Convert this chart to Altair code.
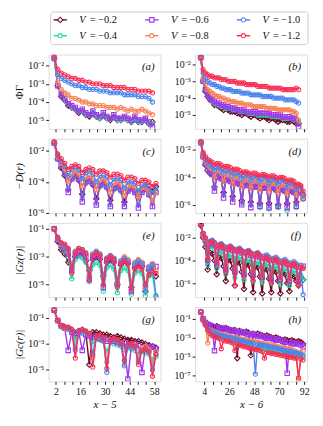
import altair as alt
import pandas as pd

FONT = "Liberation Serif"

# series: V values, colours, marker shapes (drawing order: first at bottom)
NAMES = ["-0.2", "-0.4", "-0.6", "-0.8", "-1.0", "-1.2"]
COLORS = ["#6e0b24", "#20d8a8", "#a335ee", "#fa7f52", "#4b84ee", "#f72f54"]
SHAPES = ["diamond", "circle", "square", "circle", "circle", "circle"]
SIZES = [30, 18, 20, 18, 18, 18]

# sampled positions
X_LEFT = list(range(1, 60, 2))    # x - 5 panels
X_RIGHT = list(range(1, 92, 2))   # x - 6 panels

# values stored as codes: value = 10 ** (-code / 10)
A = {
    "-0.2": [16,31,37,39,42,43,44,46,45,47,48,46,48,49,47,49,50,48,50,50,49,50,51,49,51,51,50,52,51],
    "-0.4": [16,31,36,39,41,43,44,45,45,47,47,46,48,49,47,49,49,48,50,50,49,50,51,49,51,51,50,52,52],
    "-0.6": [16,31,36,38,41,42,43,45,44,46,47,45,47,48,46,48,49,47,49,49,48,49,50,48,50,50,49,51,54],
    "-0.8": [16,29,33,35,36,38,38,39,40,40,41,41,42,42,42,43,43,43,44,43,44,45,44,45,45,44,45,46,47],
    "-1.0": [16,25,27,28,29,30,31,31,32,32,33,33,33,34,34,34,35,35,35,35,36,36,36,36,37,37,37,38,40],
    "-1.2": [15,22,24,25,26,27,27,28,28,29,29,30,30,30,31,31,31,32,32,32,32,33,33,33,34,34,34,34,35],
}
B = {
    "-0.2": [16,30,36,39,41,42,44,44,45,46,47,46,47,48,48,48,49,49,50,49,49,50,51,50,50,51,52,51,51,52,53,52,52,53,54,53,53,53,54,54,53,54,55,55],
    "-0.4": [16,30,35,38,40,42,43,44,44,45,45,46,46,46,47,47,47,48,48,48,48,49,49,49,49,50,50,50,50,50,50,51,51,51,51,51,52,52,52,52,52,53,53,54],
    "-0.6": [16,30,35,38,40,41,42,43,43,44,44,45,45,46,46,46,47,47,47,47,48,48,48,48,48,49,49,49,49,49,49,50,50,50,50,50,51,51,51,51,52,52,53,57],
    "-0.8": [16,28,32,35,36,37,38,39,39,40,40,41,41,42,42,42,43,43,43,44,44,44,44,45,45,45,45,45,45,46,46,46,46,46,47,47,47,47,47,47,48,48,49,53],
    "-1.0": [16,25,28,30,31,32,32,33,33,34,34,35,35,35,36,36,36,36,37,37,37,37,38,38,38,38,38,39,39,39,39,39,40,40,40,40,40,41,41,41,41,41,42,43],
    "-1.2": [16,23,25,26,27,27,28,28,28,29,29,29,30,30,30,30,31,31,31,31,32,32,32,32,32,33,33,33,33,33,34,34,34,34,34,34,35,35,35,35,35,35,34,35],
}
C = {
    "-0.2": [15,25,31,36,45,38,36,39,48,41,39,42,51,43,41,44,52,45,43,46,53,46,44,46,50,45,43,45,46,43],
    "-0.4": [15,25,30,35,45,38,36,38,50,41,39,41,54,43,41,44,55,45,43,46,56,46,44,47,55,47,45,49,53,46],
    "-0.6": [15,25,30,35,47,38,35,38,53,40,38,41,55,42,40,43,56,44,42,45,56,46,44,47,57,47,45,48,56,47],
    "-0.8": [15,24,28,32,40,35,33,35,43,37,36,38,45,39,38,40,47,41,40,42,49,43,42,44,50,44,44,46,52,47],
    "-1.0": [15,23,27,30,36,32,31,32,38,34,33,35,40,36,36,37,42,38,38,39,44,40,40,41,46,42,42,43,47,44],
    "-1.2": [14,22,25,28,32,30,29,30,34,32,31,32,35,33,33,34,37,35,35,36,39,37,37,38,41,39,39,40,43,41],
}
D = {
    "-0.2": [15,25,31,35,37,38,47,40,39,41,51,42,41,43,54,44,43,45,57,46,44,46,58,47,45,47,59,48,46,48,59,48,47,49,60,49,48,50,59,50,49,51,58,51,51,53],
    "-0.4": [15,25,30,33,36,37,48,39,38,40,53,41,40,42,56,43,42,44,59,45,43,45,60,46,44,46,62,47,45,47,63,47,46,48,62,48,47,49,64,49,48,50,62,50,50,56],
    "-0.6": [15,25,30,34,36,38,50,40,39,41,55,42,41,43,58,44,43,45,60,46,44,46,62,47,45,47,61,48,46,48,62,48,47,49,61,49,48,50,62,50,49,51,61,51,51,55],
    "-0.8": [15,24,28,31,33,34,40,35,35,37,43,38,38,39,45,40,40,41,47,42,41,42,48,43,42,43,49,44,43,44,50,45,44,45,51,46,45,46,52,47,46,47,53,48,49,54],
    "-1.0": [15,23,27,29,31,32,35,33,33,34,37,35,35,36,39,37,37,38,41,39,38,39,42,40,39,40,43,41,40,41,44,42,41,42,45,43,42,43,47,44,44,45,49,46,47,52],
    "-1.2": [14,22,25,27,28,29,31,30,30,31,33,32,32,33,35,34,34,35,37,36,36,37,38,37,37,38,39,38,38,39,40,39,39,40,41,40,40,41,43,42,42,43,46,45,46,50],
}
E = {
    "-0.2": [10,19,25,28,34,36,30,28,28,33,40,32,30,32,44,34,32,34,50,36,33,35,52,38,35,37,55,40,38,44],
    "-0.4": [10,18,23,26,30,46,32,30,31,34,48,36,34,36,55,38,36,39,56,40,38,40,57,42,40,42,58,44,43,59],
    "-0.6": [10,18,22,24,28,40,29,27,27,30,46,31,29,30,52,33,31,33,50,34,32,34,55,36,34,35,52,38,36,37],
    "-0.8": [10,17,21,22,26,36,27,25,25,28,42,29,27,28,45,31,29,31,48,33,30,32,50,34,32,34,53,37,35,40],
    "-1.0": [10,17,20,22,25,38,26,24,25,27,44,28,26,28,46,31,29,31,49,33,31,33,52,35,33,35,55,38,36,58],
    "-1.2": [10,16,20,21,24,42,27,24,25,28,47,29,27,29,50,32,30,32,52,35,33,35,54,39,37,39,50,43,41,42],
}
F = {
    "-0.2": [9,20,28,48,33,34,40,52,37,38,45,58,39,40,47,62,41,42,50,65,43,44,52,68,45,46,54,69,47,48,56,68,49,50,58,69,51,52,60,67,53,54,58,62,55,57],
    "-0.4": [8,18,24,44,28,27,30,47,33,32,35,52,36,35,37,55,38,37,39,57,40,39,41,58,42,41,43,59,44,43,45,60,46,45,47,61,48,47,49,62,50,49,51,60,53,57],
    "-0.6": [8,17,22,40,25,24,26,44,28,27,29,48,30,29,31,50,32,31,33,52,34,33,35,53,36,35,37,55,38,37,39,56,40,39,41,57,42,41,43,58,44,43,45,59,46,45],
    "-0.8": [8,17,21,35,24,23,25,38,27,26,28,43,29,28,30,46,31,30,32,48,33,32,34,50,35,34,36,52,37,36,38,53,39,38,40,54,41,40,42,55,43,42,44,56,45,47],
    "-1.0": [8,16,20,34,23,22,24,40,26,25,27,45,28,27,29,48,30,29,31,50,32,31,33,52,34,33,35,53,36,35,37,54,38,37,39,55,40,39,41,56,42,41,43,57,44,70],
    "-1.2": [8,16,20,39,24,23,25,42,27,26,28,50,29,28,30,62,31,30,32,54,33,32,34,58,35,34,36,55,38,37,39,60,40,39,41,57,42,41,43,58,44,43,45,62,46,47],
}
G = {
    "-0.2": [4,12,16,17,18,19,22,20,19,21,46,21,21,22,23,23,24,25,24,25,26,27,27,28,28,29,30,31,32,33],
    "-0.4": [4,12,17,18,19,20,27,21,22,23,24,30,26,27,28,36,29,30,31,32,34,33,34,35,38,36,37,38,42,40],
    "-0.6": [4,12,16,18,35,21,22,21,35,23,24,25,24,26,27,28,27,28,29,30,29,57,31,30,31,52,32,33,32,34],
    "-0.8": [4,12,16,18,18,20,33,21,20,21,23,40,25,24,25,44,27,26,27,29,46,31,30,31,42,33,32,34,45,36],
    "-1.0": [4,12,16,17,18,20,35,21,20,21,23,38,25,24,26,52,28,27,28,30,47,32,31,33,44,35,34,36,50,38],
    "-1.2": [4,12,16,17,17,19,41,20,19,20,22,48,24,23,25,49,27,26,27,29,43,31,30,32,46,35,34,36,55,38],
}
H = {
    "-0.2": [3,10,14,16,17,18,19,18,19,20,21,20,21,22,23,22,52,23,24,25,24,25,49,26,27,26,27,28,29,28,29,30,31,30,31,32,33,32,33,34,33,34,35,34,35,37],
    "-0.4": [3,11,17,22,25,27,28,29,30,31,31,32,33,33,34,35,35,36,37,37,38,38,39,39,40,41,41,42,42,43,43,44,44,45,45,46,46,47,47,48,48,49,49,50,50,51],
    "-0.6": [3,10,14,16,17,18,44,19,20,21,20,21,22,23,22,23,24,25,24,25,26,27,26,27,28,29,28,29,30,31,30,31,32,33,32,33,34,35,68,35,36,37,36,37,38,40],
    "-0.8": [3,11,16,36,22,23,24,25,26,27,27,28,28,29,30,30,31,31,32,32,33,33,34,34,35,35,36,36,37,37,38,38,39,39,40,40,41,41,42,42,43,44,45,75,46,45],
    "-1.0": [3,11,16,21,23,24,25,26,27,28,28,29,30,30,31,32,32,33,33,34,35,35,36,36,69,37,38,38,39,39,40,40,41,41,42,42,43,44,44,45,45,46,46,47,48,49],
    "-1.2": [3,12,17,22,26,28,29,30,31,42,33,34,34,35,36,44,37,38,39,40,40,41,42,42,43,43,44,45,52,46,46,47,47,48,48,49,49,50,50,51,51,52,52,73,53,54],
}

W, HGT = 113, 75
SUP = "⁰¹²³⁴⁵⁶⁷⁸⁹"
E_EXPR = "round(-log(datum.value)/LN10)"
Y_LABEL = f"'10⁻' + substring('{SUP}', {E_EXPR}, {E_EXPR}+1)"


def make_panel(series, left, bottom, ylo, yhi, yexps, tag, ytitle="", ytitle_italic=True, legend=False):
    if left:
        xs = X_LEFT
        xdom = [-2.2, 61.6]
        x0, step = 2, 14
        xtitle = "x − 5"
    else:
        xs = X_RIGHT
        xdom = [-4.0, 94.5]
        x0, step = 4, 22
        xtitle = "x − 6"
    xvals = [x0 + k * step / 3 for k in range(13)]
    xaxis = alt.Axis(
        values=xvals, labels=bottom, title=xtitle if bottom else "",
        labelExpr=f"abs((datum.value-{x0})/{step} - round((datum.value-{x0})/{step})) < 0.01 ? format(datum.value, '.0f') : ''",
        domain=False, grid=False, tickSize=3, tickColor="#222", labelFont=FONT, labelFontSize=10,
        labelColor="#111", titleFont=FONT, titleFontSize=11, titleFontStyle="italic",
        titleFontWeight="normal", titleColor="#111", titlePadding=2, labelPadding=2,
    )
    yaxis = alt.Axis(
        values=[10.0 ** e for e in yexps], labelExpr=Y_LABEL, title=ytitle,
        domain=False, grid=False, tickSize=3, tickColor="#222", labelFont=FONT, labelFontSize=10,
        labelColor="#111", titleFont=FONT, titleFontSize=11,
        titleFontStyle="italic" if ytitle_italic else "normal", titleFontWeight="normal",
        titleColor="#111", titlePadding=3, labelPadding=2,
    )
    X = alt.X("x:Q", scale=alt.Scale(domain=xdom, nice=False, zero=False), axis=xaxis)
    Y = alt.Y("y:Q", scale=alt.Scale(type="log", domain=[10.0 ** ylo, 10.0 ** yhi], nice=False), axis=yaxis)
    layers = []
    for name, col, shp, sz in zip(NAMES, COLORS, SHAPES, SIZES):
        vals = series[name]
        assert len(vals) <= len(xs), (tag, name, len(vals))
        df = pd.DataFrame({"x": xs[:len(vals)], "y": [10.0 ** (-c / 10.0) for c in vals]})
        base = alt.Chart(df).encode(x=X, y=Y)
        layers.append(base.mark_line(color=col, strokeWidth=1.4, clip=True))
        layers.append(base.mark_point(shape=shp, size=sz, filled=False, color=col,
                                      strokeWidth=1.1, opacity=1, clip=True))
    one = pd.DataFrame({"k": [0]})
    layers.append(alt.Chart(one).mark_text(text=tag, align="right", baseline="middle", font=FONT,
                                           fontSize=11, fontStyle="italic", color="#111")
                  .encode(x=alt.value(W - 6), y=alt.value(13)))
    if legend:
        layers.append(alt.Chart(one).mark_rect(fill="white", stroke="#cccccc", strokeWidth=1,
                                               cornerRadius=3)
                      .encode(x=alt.value(2), x2=alt.value(262), y=alt.value(-43), y2=alt.value(-10)))
        col_x = [0, 92.5, 185]
        row_y = [-35, -19]
        for i, (name, col, shp, sz) in enumerate(zip(NAMES, COLORS, SHAPES, SIZES)):
            dx = col_x[i // 2]
            yy = row_y[i % 2]
            layers.append(alt.Chart(one).mark_rule(color=col, strokeWidth=1.4)
                          .encode(x=alt.value(5 + dx), x2=alt.value(18.5 + dx), y=alt.value(yy)))
            layers.append(alt.Chart(one).mark_point(shape=shp, size=sz, filled=True, fill="white",
                                                    stroke=col, strokeWidth=1.1, opacity=1)
                          .encode(x=alt.value(11.7 + dx), y=alt.value(yy)))
            layers.append(alt.Chart(one).mark_text(text="V", align="left", baseline="middle", font=FONT,
                                                   fontSize=10.5, fontStyle="italic", color="#111")
                          .encode(x=alt.value(31 + dx), y=alt.value(yy)))
            layers.append(alt.Chart(one).mark_text(text="= −" + name[1:], align="left", baseline="middle",
                                                   font=FONT, fontSize=10.5, color="#111")
                          .encode(x=alt.value(41.5 + dx), y=alt.value(yy)))
    return alt.layer(*layers).properties(width=W, height=HGT)


pa = make_panel(A, True, False, -5.48, -1.38, [-2, -3, -4, -5], "(a)", "ΦΓ", False, legend=True)
pb = make_panel(B, False, False, -5.82, -1.41, [-2, -3, -4, -5], "(b)")
pc = make_panel(C, True, False, -6.02, -1.21, [-2, -4, -6], "(c)", "−D(r)")
pd_ = make_panel(D, False, False, -6.59, -1.2, [-2, -4, -6], "(d)")
pe = make_panel(E, True, False, -5.91, -0.57, [-1, -3, -5], "(e)", "|Gz(r)|")
pf = make_panel(F, False, False, -7.23, -0.68, [-2, -4, -6], "(f)")
pg = make_panel(G, True, True, -5.89, -0.16, [-1, -3, -5], "(g)", "|Gc(r)|")
ph = make_panel(H, False, True, -7.66, 0.23, [-1, -3, -5, -7], "(h)")

chart = (
    alt.concat(pa, pb, pc, pd_, pe, pf, pg, ph, columns=2,
               spacing={"row": 10, "column": 35}, bounds="flush")
    .properties(padding={"left": 5, "top": 1, "right": 5, "bottom": 5})
    .configure_view(stroke="#222", strokeWidth=0.9)
    .configure(font=FONT)
)

chart.save("out.html", embed_options={"renderer": "svg", "actions": False})
